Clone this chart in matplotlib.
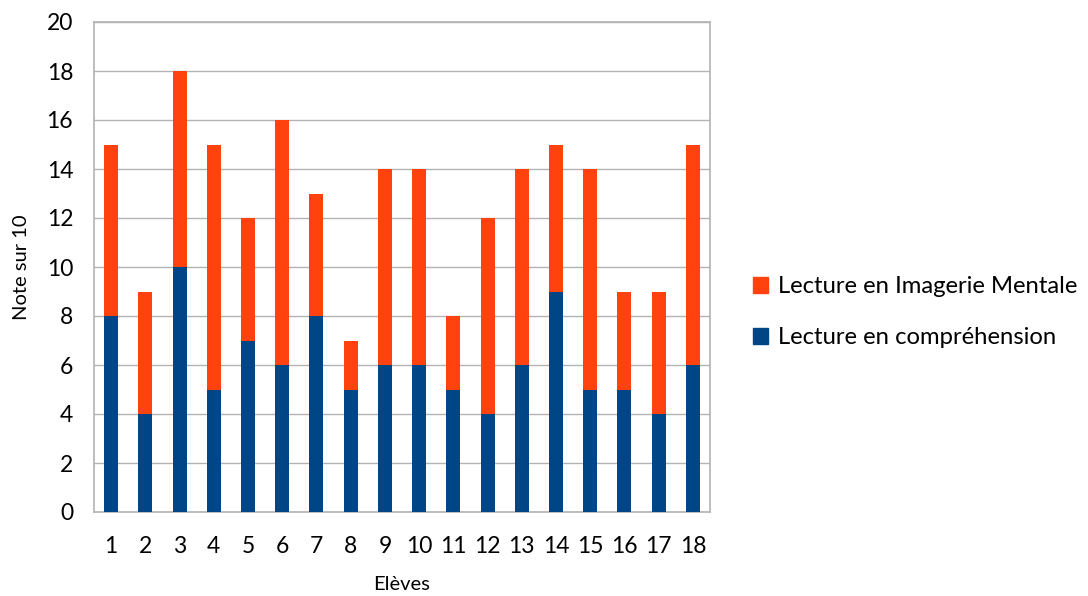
import matplotlib
matplotlib.use("Agg")
import matplotlib.pyplot as plt
from matplotlib.patches import Patch

eleves = [str(i) for i in range(1, 19)]
comprehension = [8, 4, 10, 5, 7, 6, 8, 5, 6, 6, 5, 4, 6, 9, 5, 5, 4, 6]
imagerie = [7, 5, 8, 10, 5, 10, 5, 2, 8, 8, 3, 8, 8, 6, 9, 4, 5, 9]

plt.rcParams['font.family'] = ['Lato', 'DejaVu Sans']
blue = '#004586'
orange = '#ff420e'
grid = '#b3b3b3'

fig = plt.figure(figsize=(10.88, 5.96), dpi=100)
ax = fig.add_axes([94/1088, 84/596, 616/1088, 490/596])
x = list(range(len(eleves)))
ax.bar(x, comprehension, width=0.41, color=blue, zorder=3)
ax.bar(x, imagerie, width=0.41, bottom=comprehension, color=orange, zorder=3)
ax.set_xlim(-0.5, len(eleves) - 0.5)
ax.set_ylim(0, 20)
ax.set_yticks(range(0, 21, 2))
ax.set_xticks(x)
ax.set_xticklabels(eleves)
ax.yaxis.grid(True, color=grid, linewidth=1, zorder=0)
for s in ax.spines.values():
    s.set_color(grid)
    s.set_linewidth(1.2)
ax.tick_params(axis='both', length=0, labelsize=16.5)
ax.tick_params(axis='y', pad=15)
ax.tick_params(axis='x', pad=17)
ax.set_xlabel('Elèves', fontsize=14.5, labelpad=14)
ax.set_ylabel('Note sur 10', fontsize=14.5, labelpad=12)

handles = [Patch(color=orange), Patch(color=blue)]
labels = ['Lecture en Imagerie Mentale', 'Lecture en compréhension']
fig.legend(handles, labels, loc='center left', bbox_to_anchor=(731/1088, 1 - 312/596),
           frameon=False, fontsize=17.2, handlelength=0.65, handleheight=0.65,
           handletextpad=0.4, labelspacing=1.25)
fig.savefig('out.png', dpi=100)
